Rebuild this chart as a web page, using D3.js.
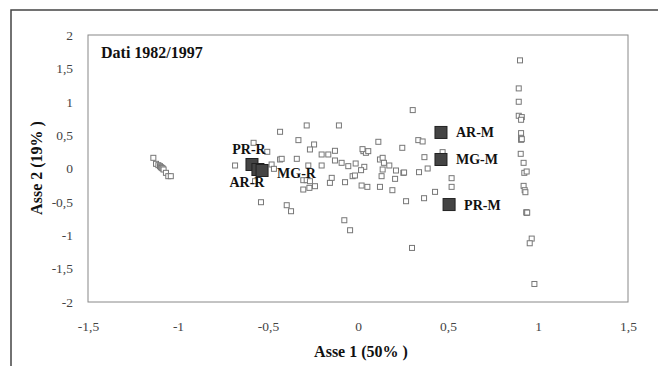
<!DOCTYPE html>
<html>
<head>
<meta charset="utf-8">
<script src="https://cdn.jsdelivr.net/npm/d3@7"></script>
<style>
  body { margin: 0; background: #fff; }
  svg { display: block; font-family: "Liberation Serif", "DejaVu Serif", serif; }
</style>
</head>
<body>
<svg id="chart" width="658" height="366"></svg>
<script>
// axis ticks
const xTicks = [-1.5, -1, -0.5, 0, 0.5, 1, 1.5];
const yTicks = [-2, -1.5, -1, -0.5, 0, 0.5, 1, 1.5, 2];

// small points (x = Asse 1, y = Asse 2)
const smallX = [
  -1.137, -1.122, -1.109, -1.100, -1.095, -1.090, -1.085, -1.080, -1.067, -1.054, -1.040,
  -0.580, -0.683, -0.504, -0.572, -0.539, -0.396, -0.372,
  -0.285, -0.106, -0.433, -0.331, -0.244, -0.267, -0.165, -0.128, -0.202,
  -0.340, -0.433, -0.424, -0.128, -0.091, -0.054, -0.013, -0.202, -0.276, -0.480, -0.467,
  0.030, 0.044, 0.057, 0.025, 0.035, 0.017,
  -0.304, -0.285, -0.267, -0.304, -0.270, -0.239, -0.156, -0.146, -0.072, -0.030, -0.017, 0.020, 0.052,
  0.304, 0.113, 0.246, 0.335, 0.359, 0.369, 0.122, 0.137, 0.144, 0.174, 0.137, 0.211, 0.252, 0.256,
  0.339, 0.387, 0.470, 0.131, 0.206, 0.520, 0.520, 0.428, 0.122, 0.191, 0.367, 0.267, 0.300,
  -0.076, -0.044,
  0.900, 0.893, 0.893, 0.893, 0.910, 0.906, 0.906, 0.906, 0.906, 0.910, 0.904, 0.920, 0.924, 0.937,
  0.920, 0.926, 0.930, 0.935, 0.937, 0.940, 0.965, 0.954, 0.980
];
const smallY = [
  0.160, 0.070, 0.050, 0.035, 0.020, 0.010, 0.000, -0.015, -0.065, -0.115, -0.115,
  0.385, 0.045, 0.250, -0.190, -0.505, -0.550, -0.640,
  0.645, 0.645, 0.550, 0.425, 0.360, 0.285, 0.210, 0.265, 0.210,
  0.145, 0.135, 0.145, 0.120, 0.085, 0.035, 0.075, 0.045, 0.045, 0.060, -0.005,
  0.260, 0.235, 0.260, 0.290, 0.025, -0.025,
  -0.175, -0.175, -0.190, -0.315, -0.290, -0.265, -0.215, -0.140, -0.205, -0.115, -0.105, -0.255, -0.275,
  0.875, 0.400, 0.310, 0.425, 0.405, 0.170, 0.135, 0.160, 0.085, 0.045, -0.015, -0.030, -0.065, -0.060,
  -0.055, 0.000, 0.245, -0.115, -0.155, -0.145, -0.275, -0.350, -0.275, -0.325, -0.445, -0.490, -1.190,
  -0.775, -0.925,
  1.620, 1.200, 1.000, 0.790, 0.770, 0.730, 0.530, 0.460, 0.430, 0.440, 0.220, 0.085, -0.065, -0.045,
  -0.260, -0.325, -0.355, -0.655, -0.665, -0.660, -1.050, -1.120, -1.730
];

// highlighted points
const bigLabels = ['PR-R', 'AR-R', 'MG-R', 'AR-M', 'MG-M', 'PR-M'];
const bigX = [-0.589, -0.556, -0.533, 0.461, 0.461, 0.506];
const bigY = [0.060, -0.015, -0.030, 0.540, 0.135, -0.540];

const svg = d3.select('#chart');
const area = {left: 88, right: 628, top: 35, bottom: 302};

const x = d3.scaleLinear().domain([-1.5, 1.5]).range([area.left, area.right]);
const y = d3.scaleLinear().domain([-2, 2]).range([area.bottom, area.top]);

const loc = d3.formatLocale({decimal: ',', thousands: '.', grouping: [3], currency: ['', ''], minus: '-'});
const fmt = loc.format('.1~f');

// outer frame (only top and left edges show)
svg.append('path')
  .attr('d', 'M11,366V10H658')
  .attr('fill', 'none')
  .attr('stroke', '#444')
  .attr('stroke-width', 1.5);

// plot area
svg.append('rect')
  .attr('x', area.left).attr('y', area.top)
  .attr('width', area.right - area.left).attr('height', area.bottom - area.top)
  .attr('fill', '#fff')
  .attr('stroke', '#888')
  .attr('stroke-width', 1);

// axes
const gx = svg.append('g')
  .attr('transform', `translate(0,${area.bottom})`)
  .call(d3.axisBottom(x).tickValues(xTicks).tickFormat(fmt).tickSize(0).tickPadding(19));
const gy = svg.append('g')
  .attr('transform', `translate(${area.left},0)`)
  .call(d3.axisLeft(y).tickValues(yTicks).tickFormat(fmt).tickSize(0).tickPadding(15));
[gx, gy].forEach(g => {
  g.select('.domain').remove();
  g.selectAll('text')
    .attr('font-family', '"Liberation Serif", serif')
    .attr('font-size', 13.5)
    .attr('fill', '#444');
});

// small hollow squares
const s = 5;
svg.append('g')
  .selectAll('rect')
  .data(smallX.map((d, i) => [d, smallY[i]]))
  .enter().append('rect')
  .attr('x', d => x(d[0]) - s / 2)
  .attr('y', d => y(d[1]) - s / 2)
  .attr('width', s)
  .attr('height', s)
  .attr('fill', '#fff')
  .attr('stroke', '#777')
  .attr('stroke-width', 1);

// big dark squares
const b = 12;
const big = bigLabels.map((l, i) => ({label: l, x: bigX[i], y: bigY[i]}));
svg.append('g')
  .selectAll('rect')
  .data(big)
  .enter().append('rect')
  .attr('x', d => x(d.x) - b / 2)
  .attr('y', d => y(d.y) - b / 2)
  .attr('width', b)
  .attr('height', b)
  .attr('fill', '#444')
  .attr('stroke', '#222')
  .attr('stroke-width', 1);

// label offsets (dx, dy, anchor)
const labelPos = {
  'PR-R': [-3, -10, 'middle'],
  'AR-R': [-11, 17, 'middle'],
  'MG-R': [15, 7, 'start'],
  'AR-M': [15, 5, 'start'],
  'MG-M': [15, 5, 'start'],
  'PR-M': [15, 5, 'start']
};
svg.append('g')
  .selectAll('text')
  .data(big)
  .enter().append('text')
  .attr('x', d => x(d.x) + labelPos[d.label][0])
  .attr('y', d => y(d.y) + labelPos[d.label][1])
  .attr('text-anchor', d => labelPos[d.label][2])
  .attr('font-size', 14)
  .attr('font-weight', 'bold')
  .attr('fill', '#111')
  .text(d => d.label);

// titles
svg.append('text')
  .attr('x', 101).attr('y', 58)
  .attr('font-size', 16)
  .attr('font-weight', 'bold')
  .attr('fill', '#111')
  .text('Dati 1982/1997');

svg.append('text')
  .attr('x', 361).attr('y', 357)
  .attr('text-anchor', 'middle')
  .attr('font-size', 16)
  .attr('font-weight', 'bold')
  .attr('fill', '#111')
  .text('Asse 1 (50% )');

svg.append('text')
  .attr('transform', 'translate(42,168) rotate(-90)')
  .attr('text-anchor', 'middle')
  .attr('font-size', 16)
  .attr('font-weight', 'bold')
  .attr('fill', '#111')
  .text('Asse 2 (19% )');
</script>
</body>
</html>
